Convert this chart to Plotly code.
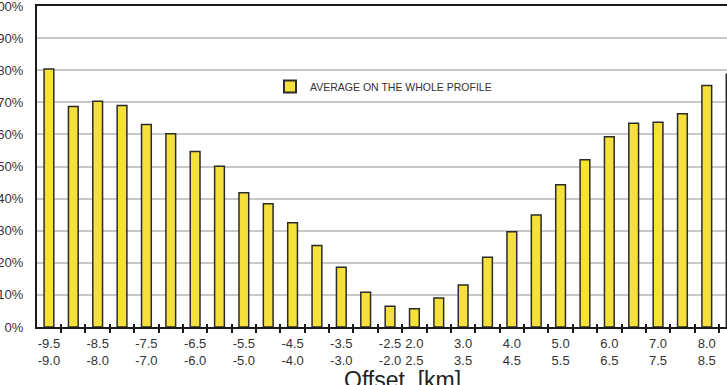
import plotly.graph_objects as go

# Offset bins (km): start of each 0.5 km bin
bin_from = [-9.5, -9.0, -8.5, -8.0, -7.5, -7.0, -6.5, -6.0, -5.5, -5.0,
            -4.5, -4.0, -3.5, -3.0, -2.5, 2.0, 2.5, 3.0, 3.5, 4.0,
            4.5, 5.0, 5.5, 6.0, 6.5, 7.0, 7.5, 8.0, 8.5]
bin_to = [-9.0, -8.5, -8.0, -7.5, -7.0, -6.5, -6.0, -5.5, -5.0, -4.5,
          -4.0, -3.5, -3.0, -2.5, -2.0, 2.5, 3.0, 3.5, 4.0, 4.5,
          5.0, 5.5, 6.0, 6.5, 7.0, 7.5, 8.0, 8.5, 9.0]
# Average on the whole profile (%)
average_pct = [80.4, 68.7, 70.3, 69.0, 63.1, 60.2, 54.7, 50.1, 41.8, 38.4,
               32.5, 25.4, 18.6, 10.8, 6.5, 5.7, 9.0, 13.1, 21.7, 29.7,
               34.9, 44.3, 52.1, 59.3, 63.5, 63.8, 66.4, 75.2, 78.7]
# Bins that carry a tick label
labelled_bins = [-9.5, -8.5, -7.5, -6.5, -5.5, -4.5, -3.5, -2.5,
                 2.0, 3.0, 4.0, 5.0, 6.0, 7.0, 8.0]
y_ticks = [0, 10, 20, 30, 40, 50, 60, 70, 80, 90, 100]

series_name = "AVERAGE ON THE WHOLE PROFILE"
x_title = "Offset  [km]"

pos = list(range(len(bin_from)))
label_pos = [bin_from.index(b) for b in labelled_bins]
label_text = [f"{bin_from[i]:.1f}<br>{bin_to[i]:.1f}" for i in label_pos]
boundaries = [p + 0.5 for p in pos]

FONT = "Liberation Sans, Arial, Helvetica, sans-serif"
W, H = 727, 385
ML, MT, MB, MR = 37, 6, 58, 0
PW, PH = W - ML - MR, H - MT - MB

fig = go.Figure()
fig.add_trace(go.Bar(
    x=pos, y=average_pct, name=series_name, width=0.4,
    marker=dict(color="#F6E03C", line=dict(color="#2b2b2b", width=1.5)),
    showlegend=True,
))

xr = [-0.49, 27.83]
fig.update_layout(
    width=W, height=H,
    margin=dict(l=ML, r=MR, t=MT, b=MB, autoexpand=False),
    paper_bgcolor="white", plot_bgcolor="white",
    font=dict(family=FONT, size=13, color="#333333"),
    bargap=0.5,
    showlegend=True,
    legend=dict(x=(270 - ML) / PW, y=(327 - 72) / PH, xanchor="left", yanchor="top",
                bgcolor="rgba(0,0,0,0)", font=dict(size=10.5, color="#333333"),
                itemsizing="constant"),
    xaxis=dict(
        range=xr, tickmode="array", tickvals=label_pos, ticktext=label_text,
        ticks="", showgrid=False, zeroline=False,
        showline=True, linecolor="#1a1a1a", linewidth=2, mirror=True,
        ticklabelstandoff=3, ticklabeloverflow="allow",
        minor=dict(tickmode="array", tickvals=boundaries, ticks="outside",
                   ticklen=4, tickwidth=1.5, tickcolor="#1a1a1a", showgrid=False),
        automargin=False,
    ),
    xaxis2=dict(
        range=xr, overlaying="x", side="bottom", anchor="y",
        tickmode="array", tickvals=boundaries, ticks="inside", ticklen=3,
        tickwidth=1.5, tickcolor="#1a1a1a", showticklabels=False,
        showgrid=False, zeroline=False, showline=False, automargin=False,
    ),
    yaxis=dict(
        range=[0, 100], tickmode="array", tickvals=y_ticks,
        ticktext=[f"{v}%" for v in y_ticks],
        showgrid=True, gridcolor="#c8c8c8", gridwidth=1.5,
        zeroline=False, showline=True, linecolor="#1a1a1a", linewidth=2,
        ticks="", ticklabelstandoff=9, ticklabeloverflow="allow",
        automargin=False,
    ),
    annotations=[dict(
        text=x_title, xref="paper", yref="paper",
        x=(402 - ML) / PW, y=-(365 - 327) / PH,
        xanchor="center", yanchor="top", showarrow=False,
        font=dict(size=23, color="#222222", family=FONT),
    )],
)
# invisible trace to activate xaxis2 ticks
fig.add_trace(go.Scatter(x=[pos[0]], y=[0], xaxis="x2", mode="markers",
                         marker=dict(opacity=0), showlegend=False, hoverinfo="skip"))

fig.write_html("out.html")
